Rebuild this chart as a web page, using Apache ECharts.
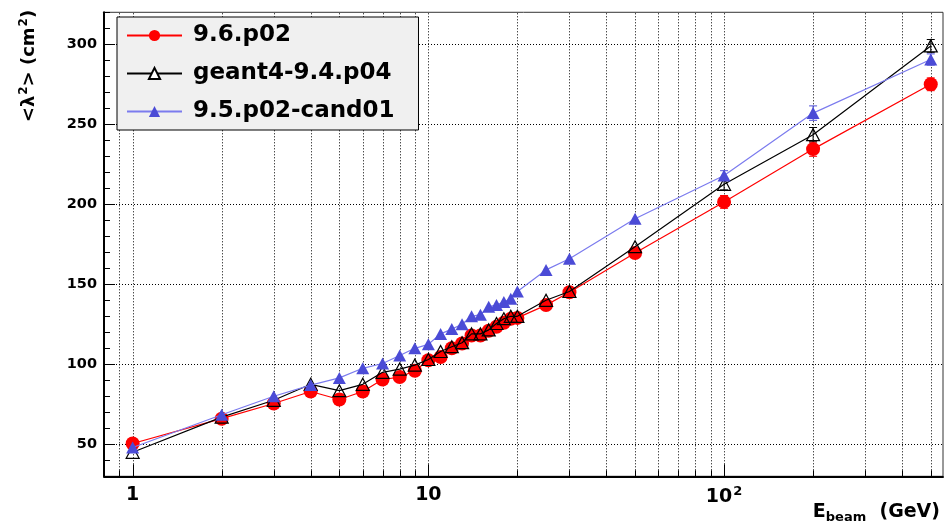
<!DOCTYPE html>
<html>
<head>
<meta charset="utf-8">
<script src="https://cdn.jsdelivr.net/npm/echarts@6/dist/echarts.min.js"></script>
<style>
  html, body { margin: 0; padding: 0; background: #fff; }
  #chart { width: 946px; height: 527px; }
</style>
</head>
<body>
<div id="chart"></div>
<script>
// beam energies (GeV)
const energies = [1, 2, 3, 4, 5, 6, 7, 8, 9, 10, 11, 12, 13, 14, 15, 16, 17, 18, 19, 20, 25, 30, 50, 100, 200, 500]
// <lambda^2> (cm^2) per release
const v96p02 = [50.5, 66, 75.5, 83, 78, 83, 90.5, 92, 96, 102.5, 104.5, 110, 113, 118, 118, 121, 123.5, 126, 128.5, 129, 137, 145, 169.5, 201.5, 234.5, 275]
const vGeant494 = [45, 67, 77.5, 87.5, 83.5, 87.5, 95, 97, 99.5, 103, 108, 111, 113.5, 119, 119, 121.5, 125.5, 128.5, 130, 130, 140, 145.5, 173.5, 212.5, 243.5, 299]
const v95cand01 = [48, 68.5, 80, 87, 91.5, 97.5, 100.5, 105.5, 110, 112.5, 119, 122, 125, 130, 131, 136, 137, 139, 141, 145.5, 159, 166, 191, 218, 257, 290.5]
// error bars (only visible at high energy)
const e96p02 = [0, 0, 0, 0, 0, 0, 0, 0, 0, 0, 0, 0, 0, 0, 0, 0, 0, 0, 0, 0, 0, 0, 0, 4, 4.5, 4]
const eGeant494 = [0, 0, 0, 0, 0, 0, 0, 0, 0, 0, 0, 0, 0, 0, 0, 0, 0, 0, 0, 0, 0, 0, 0, 3.5, 4.5, 4]
const e95cand01 = [0, 0, 0, 0, 0, 0, 0, 0, 0, 0, 0, 0, 0, 0, 0, 0, 0, 0, 0, 0, 0, 0, 0, 3, 4.5, 3.5]
// axis ticks
const xGridTicks = [0.9, 1, 2, 3, 4, 5, 6, 7, 8, 9, 10, 20, 30, 40, 50, 60, 70, 80, 90, 100, 200, 300, 400, 500]
const yMajorTicks = [50, 100, 150, 200, 250, 300]

const Y_MIN = 30
const Y_MAX = 320
const FONT = 'DejaVu Sans'

const myChart = echarts.init(document.getElementById('chart'))

function pairs(vals) {
  return energies.map((e, i) => [e, vals[i]])
}

function errData(vals, errs) {
  return energies.map((e, i) => [e, vals[i], errs[i]]).filter(d => d[2] > 0)
}

function errSeries(vals, errs, color) {
  return {
    type: 'custom',
    silent: true,
    z: 3,
    data: errData(vals, errs),
    renderItem(params, api) {
      const x = api.value(0)
      const y = api.value(1)
      const e = api.value(2)
      const lo = api.coord([x, y - e])
      const hi = api.coord([x, y + e])
      const st = { stroke: color, lineWidth: 1 }
      return {
        type: 'group',
        children: [
          { type: 'line', shape: { x1: lo[0], y1: lo[1], x2: hi[0], y2: hi[1] }, style: st },
          { type: 'line', shape: { x1: lo[0] - 4, y1: lo[1], x2: lo[0] + 4, y2: lo[1] }, style: st },
          { type: 'line', shape: { x1: hi[0] - 4, y1: hi[1], x2: hi[0] + 4, y2: hi[1] }, style: st }
        ]
      }
    }
  }
}

const option = {
  animation: false,
  backgroundColor: '#fff',
  grid: {
    left: 104,
    right: 1,
    top: 12.3,
    bottom: 50.7,
    show: true,
    borderColor: '#333',
    borderWidth: 1
  },
  legend: {
    orient: 'vertical',
    left: 117,
    top: 17,
    padding: [7, 24, 7, 9],
    itemGap: 15,
    itemWidth: 55,
    itemHeight: 14,
    backgroundColor: '#f0f0f0',
    borderColor: '#000',
    borderWidth: 1,
    textStyle: {
      fontFamily: FONT,
      fontWeight: 'bold',
      fontSize: 23,
      lineHeight: 23,
      color: '#000',
      padding: [0, 0, 0, 6]
    },
    data: [
      { name: '9.6.p02' },
      { name: 'geant4-9.4.p04', itemStyle: { color: '#fff' } },
      { name: '9.5.p02-cand01' }
    ]
  },
  xAxis: {
    type: 'log',
    logBase: 10,
    min: 0.8,
    max: 550,
    axisLine: { lineStyle: { color: '#000', width: 2 } },
    axisTick: { show: false },
    splitLine: { show: false },
    axisLabel: {
      margin: 9,
      fontFamily: FONT,
      fontWeight: 'bold',
      fontSize: 19,
      color: '#000',
      rich: {
        a: { fontFamily: FONT, fontWeight: 'bold', fontSize: 19, color: '#000' },
        s: { fontFamily: FONT, fontWeight: 'bold', fontSize: 13, color: '#000', padding: [0, 0, 10, 1] }
      },
      formatter(v) {
        const p = Math.log10(v)
        if (Math.abs(p - Math.round(p)) > 1e-6) return ''
        const n = Math.round(p)
        if (n === 0) return '{a|1}'
        if (n === 1) return '{a|10}'
        if (n === 2) return '{a|10}{s|2}'
        return ''
      }
    }
  },
  yAxis: {
    type: 'value',
    min: Y_MIN,
    max: Y_MAX,
    interval: 10,
    axisLine: { show: true, lineStyle: { color: '#000', width: 2 } },
    axisTick: { show: true, inside: true, length: 6, lineStyle: { color: '#000' } },
    splitLine: { show: false },
    axisLabel: {
      margin: 7,
      fontFamily: FONT,
      fontWeight: 'bold',
      fontSize: 14.5,
      color: '#000',
      formatter: v => (v % 50 === 0 ? String(v) : '')
    }
  },
  graphic: [
    {
      type: 'text',
      x: 29,
      y: 66,
      rotation: Math.PI / 2,
      style: {
        text: '{a|<λ}{s|2}{a|> (cm}{s|2}{a|)}',
        align: 'center',
        verticalAlign: 'middle',
        rich: {
          a: { font: 'bold 18px "DejaVu Sans"', fill: '#000' },
          s: { font: 'bold 12px "DejaVu Sans"', fill: '#000', padding: [0, 0, 10, 1] }
        }
      }
    },
    {
      type: 'text',
      x: 940,
      y: 512,
      style: {
        text: '{a|E}{b|beam}{a|  (GeV)}',
        align: 'right',
        verticalAlign: 'middle',
        rich: {
          a: { font: 'bold 19px "DejaVu Sans"', fill: '#000' },
          b: { font: 'bold 13px "DejaVu Sans"', fill: '#000', padding: [12, 0, 0, 0] }
        }
      }
    }
  ],
  series: [
    {
      // vertical dotted grid and minor ticks on log axis
      type: 'custom',
      silent: true,
      z: 1,
      data: xGridTicks.map(x => [x, Y_MIN]),
      renderItem(params, api) {
        const x = api.value(0)
        const bot = api.coord([x, Y_MIN])
        const top = api.coord([x, Y_MAX])
        const p = Math.log10(x)
        const major = Math.abs(p - Math.round(p)) < 1e-6
        const px = Math.round(bot[0]) + 0.5
        return {
          type: 'group',
          children: [
            { type: 'line', shape: { x1: px, y1: bot[1], x2: px, y2: top[1] }, style: { stroke: '#000', lineWidth: 1, lineDash: [1, 2] } },
            { type: 'line', shape: { x1: px, y1: bot[1], x2: px, y2: bot[1] - (major ? 12 : 6) }, style: { stroke: '#000', lineWidth: 1 } }
          ]
        }
      }
    },
    {
      // horizontal dotted grid and major y ticks
      type: 'custom',
      silent: true,
      z: 1,
      data: yMajorTicks.map(y => [1, y]),
      renderItem(params, api) {
        const y = api.value(1)
        const l = api.coord([0.8, y])
        const r = api.coord([550, y])
        const py = Math.round(l[1]) + 0.5
        return {
          type: 'group',
          children: [
            { type: 'line', shape: { x1: l[0], y1: py, x2: r[0], y2: py }, style: { stroke: '#000', lineWidth: 1, lineDash: [1, 2] } },
            { type: 'line', shape: { x1: l[0], y1: py, x2: l[0] + 11, y2: py }, style: { stroke: '#000', lineWidth: 1 } }
          ]
        }
      }
    },
    errSeries(v96p02, e96p02, '#ff0000'),
    {
      name: '9.6.p02',
      type: 'line',
      z: 4,
      data: pairs(v96p02),
      symbol: 'circle',
      symbolSize: 14,
      itemStyle: { color: '#ff0000' },
      lineStyle: { color: '#ff0000', width: 1.2 }
    },
    errSeries(vGeant494, eGeant494, '#000'),
    {
      name: 'geant4-9.4.p04',
      type: 'line',
      z: 5,
      data: pairs(vGeant494),
      symbol: 'triangle',
      symbolSize: [13, 12],
      itemStyle: { color: 'rgba(255,255,255,0)', borderColor: '#000', borderWidth: 1.2 },
      lineStyle: { color: '#000', width: 1.2 }
    },
    errSeries(v95cand01, e95cand01, '#5050d8'),
    {
      name: '9.5.p02-cand01',
      type: 'line',
      z: 6,
      data: pairs(v95cand01),
      symbol: 'triangle',
      symbolSize: [13, 12],
      itemStyle: { color: '#4b4bd6' },
      lineStyle: { color: '#7b7bee', width: 1.2 }
    }
  ]
}

myChart.setOption(option)
</script>
</body>
</html>
